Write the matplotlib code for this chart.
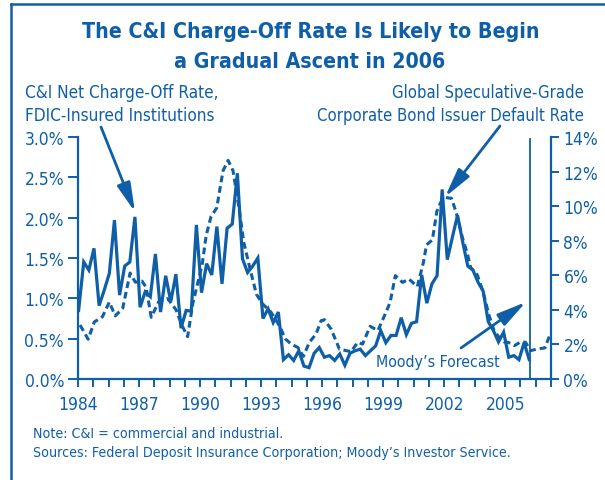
import numpy as np
import matplotlib
matplotlib.use("Agg")
import matplotlib.pyplot as plt
from matplotlib import font_manager as fm
from matplotlib.patches import FancyArrowPatch
from matplotlib.ticker import FixedLocator, FuncFormatter

# C&I net charge-off rate, quarterly 1984Q1 - 2006Q1 (percent, left axis)
chargeoff_start = 1984.03
chargeoff_end = 2006.18
chargeoff_rate = [
    0.85, 1.45, 1.35, 1.62, 0.91, 1.10, 1.31, 1.97, 1.04, 1.40, 1.45, 2.01,
    0.89, 1.08, 1.02, 1.55, 0.83, 1.28, 0.96, 1.30, 0.63, 0.85, 0.84, 1.91,
    1.07, 1.43, 1.29, 1.89, 1.18, 1.87, 1.92, 2.55, 1.49, 1.32, 1.40, 1.50,
    0.75, 0.87, 0.70, 0.83, 0.24, 0.30, 0.23, 0.35, 0.16, 0.14, 0.32, 0.39,
    0.27, 0.29, 0.23, 0.31, 0.17, 0.32, 0.35, 0.37, 0.29, 0.35, 0.41, 0.60,
    0.45, 0.54, 0.54, 0.76, 0.55, 0.69, 0.71, 1.29, 0.94, 1.18, 1.28, 2.35,
    1.48, 1.76, 2.03, 1.70, 1.40, 1.35, 1.20, 1.09, 0.71, 0.60, 0.46, 0.58,
    0.27, 0.29, 0.24, 0.45, 0.24,
]

# Global speculative-grade default rate (percent, right axis), incl. forecast
default_years = [
    1984.10, 1984.50, 1984.80, 1985.20, 1985.54, 1985.83, 1986.20, 1986.56,
    1986.82, 1987.15, 1987.35, 1987.60, 1987.97, 1988.41, 1988.82, 1989.11,
    1989.39, 1989.64, 1990.10, 1990.30, 1990.54, 1990.82, 1991.13, 1991.38,
    1991.62, 1991.90, 1992.15, 1992.44, 1992.77, 1993.08, 1993.49, 1993.90,
    1994.20, 1994.48, 1994.80, 1995.08, 1995.37, 1995.70, 1995.95, 1996.11,
    1996.44, 1996.85, 1997.42, 1997.75, 1997.99, 1998.36, 1998.74, 1999.14,
    1999.34, 1999.60, 1999.95, 2000.27, 2000.68, 2000.98, 2001.13, 2001.42,
    2001.64, 2001.82, 2002.06, 2002.36, 2002.60, 2002.89, 2003.15, 2003.30,
    2003.63, 2003.92, 2004.20, 2004.45, 2004.70, 2004.95, 2005.15, 2005.45,
    2005.78, 2006.00, 2006.25, 2006.55, 2006.95, 2007.18,
]
default_rate = [
    3.12, 2.30, 3.30, 3.60, 4.45, 3.65, 4.10, 6.13,
    5.60, 5.66, 5.30, 3.57, 4.48, 4.65, 4.00, 3.10,
    2.45, 4.35, 6.60, 8.30, 9.40, 9.90, 12.05, 12.65,
    12.05, 10.00, 7.90, 6.45, 4.90, 4.34, 3.86, 3.08,
    2.31, 2.02, 1.83, 1.31, 2.12, 2.60, 3.37, 3.43,
    2.89, 1.73, 1.58, 2.12, 2.02, 3.05, 2.80, 3.86,
    4.43, 5.98, 5.59, 5.78, 5.35, 6.75, 7.76, 8.05,
    9.70, 10.20, 10.50, 10.45, 9.60, 8.20, 7.20, 6.45,
    6.02, 5.01, 3.70, 2.80, 2.41, 2.14, 2.12, 1.93,
    2.16, 2.12, 1.64, 1.73, 1.80, 2.50,
]

left_ticks = [0.0, 0.5, 1.0, 1.5, 2.0, 2.5, 3.0]
right_ticks = [0, 2, 4, 6, 8, 10, 12, 14]
year_labels = [1984, 1987, 1990, 1993, 1996, 1999, 2002, 2005]
forecast_start = 2006.2

BLUE = "#0f5fa8"
W, H = 605, 481

# narrow font if there is one
names = {f.name for f in fm.fontManager.ttflist}
if "Liberation Sans Narrow" in names:
    FONT = dict(family="Liberation Sans Narrow")
else:
    FONT = dict(family="DejaVu Sans", stretch="condensed")


def fx(px):
    return px / W


def fy(py):
    return 1 - py / H


fig = plt.figure(figsize=(W / 100, H / 100), dpi=100)
ax = fig.add_axes([fx(78), fy(380), fx(551) - fx(78), fy(138) - fy(380)])
ax2 = ax.twinx()
ax.set_zorder(ax2.get_zorder() + 1)
ax.patch.set_visible(False)

qx = np.linspace(chargeoff_start, chargeoff_end, len(chargeoff_rate))
ax.plot(qx, chargeoff_rate, color=BLUE, lw=2.3, solid_joinstyle="miter")
ax2.plot(default_years, default_rate, color=BLUE, lw=2.2, ls=(0, (2.2, 1.3)))
ax.axvline(forecast_start, ymin=0, ymax=0.99, color=BLUE, lw=1.3)

ax.set_xlim(1984, 2007.25)
ax.set_ylim(0, 3.0)
ax2.set_ylim(0, 14)

ax.xaxis.set_major_locator(FixedLocator(np.arange(1984, 2007.3, 0.75)))
ax.xaxis.set_major_formatter(FuncFormatter(
    lambda v, p: str(int(round(v))) if int(round(v)) in year_labels and abs(v - round(v)) < 1e-6 else ""))
ax.set_yticks(left_ticks)
ax.yaxis.set_major_formatter(FuncFormatter(lambda v, p: f"{v:.1f}%"))
ax2.set_yticks(right_ticks)
ax2.yaxis.set_major_formatter(FuncFormatter(lambda v, p: f"{v:.0f}%"))

for a in (ax, ax2):
    for s in a.spines.values():
        s.set_color(BLUE)
        s.set_linewidth(1.6)
    a.spines["top"].set_visible(False)
ax.spines["right"].set_visible(False)
ax2.spines["left"].set_visible(False)
ax2.spines["bottom"].set_visible(False)

ax.tick_params(axis="x", direction="out", length=5.5, width=1.4, color=BLUE,
               labelcolor=BLUE, labelsize=12.5, pad=6)
ax.tick_params(axis="y", direction="out", length=7, width=1.4, color=BLUE,
               labelcolor=BLUE, labelsize=12.5, pad=3)
ax2.tick_params(axis="y", direction="out", length=6, width=1.4, color=BLUE,
                labelcolor=BLUE, labelsize=12.5, pad=3)
for lab in ax.get_xticklabels() + ax.get_yticklabels() + ax2.get_yticklabels():
    lab.set(**FONT)

# frame round the panel (top and left edges show)
fig.add_artist(plt.Line2D([fx(11), 1.0], [fy(5), fy(5)], color=BLUE, lw=1.8))
fig.add_artist(plt.Line2D([fx(11), fx(11)], [fy(5), 0.0], color=BLUE, lw=1.8))

# title
fig.text(fx(311), fy(32), "The C&I Charge-Off Rate Is Likely to Begin", color=BLUE,
         fontsize=15.3, fontweight="bold", ha="center", va="center", **FONT)
fig.text(fx(310), fy(62), "a Gradual Ascent in 2006", color=BLUE,
         fontsize=15.3, fontweight="bold", ha="center", va="center", **FONT)

# series labels
fig.text(fx(25), fy(93), "C&I Net Charge-Off Rate,", color=BLUE, fontsize=12.3,
         ha="left", va="center", **FONT)
fig.text(fx(25), fy(116), "FDIC-Insured Institutions", color=BLUE, fontsize=12.3,
         ha="left", va="center", **FONT)
fig.text(fx(584), fy(93), "Global Speculative-Grade", color=BLUE, fontsize=12.0,
         ha="right", va="center", **FONT)
fig.text(fx(584), fy(116), "Corporate Bond Issuer Default Rate", color=BLUE, fontsize=12.0,
         ha="right", va="center", **FONT)
fig.text(fx(438), fy(362), "Moody\u2019s Forecast", color=BLUE, fontsize=11.4,
         ha="center", va="center", **FONT)

# arrows
arrow = dict(arrowstyle="-|>,head_length=1.1,head_width=0.26", color=BLUE, lw=2.0,
             mutation_scale=16, shrinkA=0, shrinkB=0, transform=fig.transFigure)
fig.add_artist(FancyArrowPatch((fx(101), fy(128)), (fx(135), fy(213)), **arrow))
fig.add_artist(FancyArrowPatch((fx(500), fy(127)), (fx(445), fy(198)), **arrow))
fig.add_artist(FancyArrowPatch((fx(461), fy(349)), (fx(526), fy(303)), **arrow))

# notes
fig.text(fx(33), fy(434), "Note: C&I = commercial and industrial.", color=BLUE,
         fontsize=10.2, ha="left", va="center", **FONT)
fig.text(fx(33), fy(453), "Sources: Federal Deposit Insurance Corporation; Moody\u2019s Investor Service.",
         color=BLUE, fontsize=10.2, ha="left", va="center", **FONT)

fig.savefig("out.png", dpi=100)
